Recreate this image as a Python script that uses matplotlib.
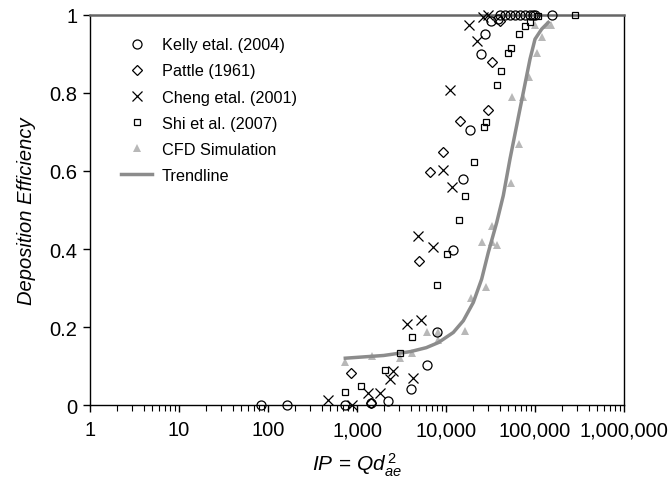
import matplotlib
matplotlib.use("Agg")
import matplotlib.pyplot as plt
from matplotlib.ticker import FixedLocator, LogLocator, FuncFormatter, NullFormatter

plt.rcParams['font.family'] = ['Liberation Sans', 'DejaVu Sans']
plt.rcParams['mathtext.fontset'] = 'custom'
plt.rcParams['mathtext.it'] = 'Liberation Sans:italic'
plt.rcParams['mathtext.rm'] = 'Liberation Sans'

# Kelly et al. (2004)
kelly_x = [83, 162, 739, 1440, 2210, 4010, 6070, 7980, 12080, 15640, 18620, 24730,
           27420, 31780, 38000, 40430, 46000, 52380, 59560, 67800, 77200, 87900, 95000,
           100000, 154000]
kelly_y = [0, 0, 0, 0.005, 0.01, 0.041, 0.103, 0.188, 0.397, 0.579, 0.705, 0.9,
           0.951, 0.985, 0.99, 1, 1, 1, 1, 1, 1, 1, 1, 1, 1]

# Pattle (1961)
pattle_x = [856, 1436, 5012, 6610, 9330, 14350, 29410, 32610, 40430]
pattle_y = [0.082, 0.005, 0.368, 0.598, 0.648, 0.729, 0.757, 0.879, 0.985]

# Cheng et al. (2001)
cheng_x = [476, 879, 1330, 1813, 2348, 2560, 4226, 3613, 5237, 4886, 7083, 9330,
           11590, 11090, 18270, 22130, 26240, 29870]
cheng_y = [0.014, 0, 0.03, 0.03, 0.067, 0.086, 0.07, 0.208, 0.219, 0.434, 0.406,
           0.603, 0.558, 0.808, 0.974, 0.934, 0.994, 1.0]

# Shi et al. (2007)
shi_x = [739, 1100, 2064, 3042, 4120, 7925, 10350, 14000, 16350, 20630, 26930, 27930,
         37140, 41200, 49320, 53350, 66070, 77200, 87900, 108900, 281400]
shi_y = [0.034, 0.05, 0.09, 0.133, 0.175, 0.308, 0.387, 0.475, 0.537, 0.622, 0.712,
         0.726, 0.821, 0.857, 0.902, 0.915, 0.951, 0.973, 0.981, 0.997, 1.0]

# CFD simulation
cfd_x = [739, 1486, 3042, 4150, 6166, 8200, 8200, 16350, 18930, 27930, 25170, 32610,
         37730, 32610, 53350, 66660, 54720, 73900, 86300, 104500, 120800, 100000,
         135300, 150000]
cfd_y = [0.109, 0.126, 0.12, 0.133, 0.186, 0.186, 0.166, 0.19, 0.274, 0.302, 0.417,
         0.417, 0.409, 0.458, 0.569, 0.669, 0.791, 0.791, 0.842, 0.902, 0.943, 0.974,
         0.974, 0.974]

# trendline
trend_x = [739, 2000, 4000, 6000, 8200, 12080, 15640, 20270, 25170, 29870, 37140,
           44030, 52380, 67800, 87900, 100000, 118900, 141000]
trend_y = [0.12, 0.127, 0.137, 0.147, 0.16, 0.186, 0.216, 0.263, 0.323, 0.391, 0.468,
           0.537, 0.631, 0.759, 0.887, 0.938, 0.964, 0.981]

fig = plt.figure(figsize=(6.71, 4.81), dpi=100)
ax = fig.add_axes([90/671, 1 - 406/481, 534/671, 390/481])

ax.plot(kelly_x, kelly_y, 'o', mfc='none', mec='black', ms=6.5, mew=0.9,
        clip_on=False, label='Kelly etal. (2004)', zorder=3)
ax.plot(pattle_x, pattle_y, 'D', mfc='none', mec='black', ms=5, mew=0.9,
        clip_on=False, label='Pattle (1961)', zorder=3)
ax.plot(cheng_x, cheng_y, 'x', color='black', ms=7.5, mew=0.9,
        clip_on=False, label='Cheng etal. (2001)', zorder=3)
ax.plot(shi_x, shi_y, 's', mfc='none', mec='black', ms=4.5, mew=0.9,
        clip_on=False, label='Shi et al. (2007)', zorder=3)
ax.plot(cfd_x, cfd_y, '^', color='#b8b8b8', ms=5.5, mew=0,
        clip_on=False, label='CFD Simulation', zorder=2)
ax.plot(trend_x, trend_y, '-', color='#8c8c8c', lw=2.5, label='Trendline', zorder=2)

ax.set_xscale('log')
ax.set_xlim(1, 1e6)
ax.set_ylim(0, 1)
ax.xaxis.set_major_locator(FixedLocator([1, 10, 100, 1e3, 1e4, 1e5, 1e6]))
ax.xaxis.set_major_formatter(FuncFormatter(lambda v, p: f'{int(round(v)):,}'))
ax.xaxis.set_minor_locator(LogLocator(base=10, subs=range(2, 10)))
ax.xaxis.set_minor_formatter(NullFormatter())
ax.set_yticks([0, 0.2, 0.4, 0.6, 0.8, 1])
ax.set_yticklabels(['0', '0.2', '0.4', '0.6', '0.8', '1'])

ax.tick_params(axis='both', which='major', direction='out', length=5, width=1,
               labelsize=14.5, colors='black')
ax.tick_params(axis='x', which='minor', direction='out', length=4, width=0.8)
ax.tick_params(axis='x', pad=6)
ax.tick_params(axis='y', pad=4)

for s in ['left', 'bottom', 'right']:
    ax.spines[s].set_color('black')
    ax.spines[s].set_linewidth(1)
ax.spines['top'].set_color('#666666')
ax.spines['top'].set_linewidth(1.8)

ax.set_xlabel(r'$IP\, =\, Qd_{ae}^{\,2}$', fontsize=15, labelpad=8)
ax.set_ylabel('Deposition Efficiency', fontsize=14.5, style='italic', labelpad=10)

leg = ax.legend(loc='upper left', bbox_to_anchor=(0.031, 0.98), frameon=False,
                fontsize=11.7, handlelength=1.9, labelspacing=0.68, handletextpad=0.6)

fig.savefig('out.png', dpi=100)
